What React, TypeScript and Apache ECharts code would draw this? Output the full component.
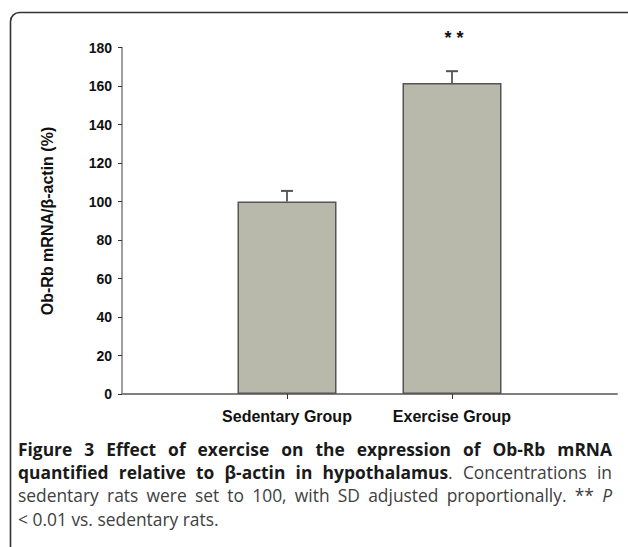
import React, { useEffect, useRef } from "react";
import * as echarts from "echarts";

const CATEGORIES = ["", "Sedentary Group", "Exercise Group", ""];
const VALUES: (number | null)[] = [null, 100, 161.5, null];
const SD: (number | null)[] = [null, 5.5, 6.2, null];
const MARKS = ["", "", "* *", ""];
const Y_MIN = 0;
const Y_MAX = 180;
const Y_STEP = 20;
const Y_NAME = "Ob-Rb mRNA/β-actin (%)";

type Piece = { t: string; s: "b" | "r" | "i" };
const CAPTION_LINES: Piece[][] = [
  [{ t: "Figure 3 Effect of exercise on the expression of Ob-Rb mRNA", s: "b" }],
  [
    { t: "quantified relative to β-actin in hypothalamus", s: "b" },
    { t: ". Concentrations in", s: "r" },
  ],
  [
    { t: "sedentary rats were set to 100, with SD adjusted proportionally. ** ", s: "r" },
    { t: "P", s: "i" },
  ],
  [{ t: "< 0.01 vs. sedentary rats.", s: "r" }],
];
const CAPTION_JUSTIFY = [true, true, true, false];

const CAP_FONT_FAMILY = '"Open Sans", "Noto Sans", sans-serif';
const CAP_SIZE = 17.4;
const CAP_LEFT = 18;
const CAP_RIGHT = 612;
const CAP_Y0 = 449;
const CAP_DY = 23.2;

function fontFor(s: string) {
  if (s === "b") return `bold ${CAP_SIZE}px ${CAP_FONT_FAMILY}`;
  if (s === "i") return `italic ${CAP_SIZE}px ${CAP_FONT_FAMILY}`;
  return `normal ${CAP_SIZE}px ${CAP_FONT_FAMILY}`;
}

function buildCaption(): any[] {
  const canvas = document.createElement("canvas");
  const ctx = canvas.getContext("2d")!;
  const measure = (t: string, s: string) => {
    ctx.font = fontFor(s);
    return ctx.measureText(t).width;
  };
  const out: any[] = [];
  CAPTION_LINES.forEach((line, li) => {
    const words: Piece[][] = [];
    let cur: Piece[] = [];
    line.forEach((p) => {
      const parts = p.t.split(" ");
      parts.forEach((part, k) => {
        if (k > 0) {
          if (cur.length) words.push(cur);
          cur = [];
        }
        if (part.length) cur.push({ t: part, s: p.s });
      });
    });
    if (cur.length) words.push(cur);
    const widths = words.map((w) => w.reduce((a, p) => a + measure(p.t, p.s), 0));
    const total = widths.reduce((a, b) => a + b, 0);
    const space = measure(" ", "r");
    let gap = CAPTION_JUSTIFY[li] && words.length > 1
      ? (CAP_RIGHT - CAP_LEFT - total) / (words.length - 1)
      : space;
    if (gap < 3) gap = 3;
    let x = CAP_LEFT;
    const y = CAP_Y0 + li * CAP_DY;
    words.forEach((w, wi) => {
      let px = x;
      w.forEach((p) => {
        out.push({
          type: "text",
          x: px,
          y,
          style: {
            text: p.t,
            font: fontFor(p.s),
            fill: p.s === "b" ? "#1a1a1a" : "#404040",
            align: "left",
            verticalAlign: "middle",
          },
        });
        px += measure(p.t, p.s);
      });
      x += widths[wi] + gap;
    });
  });
  return out;
}

export default function App() {
  const ref = useRef<HTMLDivElement>(null);
  useEffect(() => {
    if (!ref.current) return;
    const chart = echarts.init(ref.current, undefined, { renderer: "svg" });
    const errData = CATEGORIES.map((_, i) => [i, VALUES[i], SD[i]]).filter(
      (d) => d[1] != null
    );
    const axisColor = "#7f7f7f";
    const labelFont = '"Liberation Sans", Arial, sans-serif';
    chart.setOption({
      animation: false,
      backgroundColor: "#ffffff",
      grid: { left: 122, right: 11, top: 47.5, bottom: 153, containLabel: false },
      xAxis: {
        type: "category",
        data: CATEGORIES,
        boundaryGap: false,
        axisLine: { lineStyle: { color: axisColor, width: 2 } },
        axisTick: {
          show: true,
          length: 5,
          interval: (i: number) => i === 1 || i === 2,
          lineStyle: { color: "#333", width: 1 },
        },
        axisLabel: {
          interval: 0,
          margin: 14,
          color: "#111",
          fontWeight: "bold",
          fontSize: 16,
          fontFamily: labelFont,
        },
        splitLine: { show: false },
      },
      yAxis: {
        type: "value",
        min: Y_MIN,
        max: Y_MAX,
        interval: Y_STEP,
        axisLine: { show: true, lineStyle: { color: axisColor, width: 1.5 } },
        axisTick: { show: true, length: 4, lineStyle: { color: "#333", width: 1 } },
        axisLabel: {
          margin: 10,
          color: "#111",
          fontWeight: "bold",
          fontSize: 14,
          fontFamily: labelFont,
        },
        splitLine: { show: false },
      },
      series: [
        {
          type: "bar",
          data: VALUES,
          barWidth: 99,
          itemStyle: { color: "#b8b8ab", borderColor: "#555", borderWidth: 1.5 },
          z: 2,
        },
        {
          type: "custom",
          clip: false,
          z: 3,
          data: errData,
          encode: { x: 0, y: 1 },
          renderItem: (params: any, api: any) => {
            const xi = api.value(0);
            const v = api.value(1);
            const sd = api.value(2);
            const base = api.coord([xi, v]);
            const top = api.coord([xi, v + sd]);
            const children: any[] = [
              {
                type: "line",
                shape: { x1: base[0], y1: base[1], x2: top[0], y2: top[1] },
                style: { stroke: "#333", lineWidth: 1.5 },
              },
              {
                type: "line",
                shape: { x1: top[0] - 6, y1: top[1], x2: top[0] + 6, y2: top[1] },
                style: { stroke: "#555", lineWidth: 2 },
              },
            ];
            const mark = MARKS[errData[params.dataIndex][0] as number];
            if (mark) {
              children.push({
                type: "text",
                x: top[0] + 2,
                y: top[1] - 33,
                style: {
                  text: mark,
                  font: `bold 18px ${labelFont}`,
                  fill: "#111",
                  align: "center",
                  verticalAlign: "middle",
                },
              });
            }
            return { type: "group", children };
          },
        },
      ],
      graphic: [
        {
          type: "rect",
          shape: { x: 10.5, y: 12.5, width: 700, height: 700, r: 9 },
          style: { fill: "none", stroke: "#333", lineWidth: 1.6 },
          z: -1,
        },
        {
          type: "text",
          x: 47,
          y: 221,
          rotation: Math.PI / 2,
          style: {
            text: Y_NAME,
            font: `bold 16px ${labelFont}`,
            fill: "#111",
            align: "center",
            verticalAlign: "middle",
          },
        },
        ...buildCaption(),
      ],
    });
    return () => chart.dispose();
  }, []);
  return (
    <div
      ref={ref}
      style={{ position: "absolute", left: 0, top: 0, width: 628, height: 547, background: "#fff" }}
    />
  );
}
